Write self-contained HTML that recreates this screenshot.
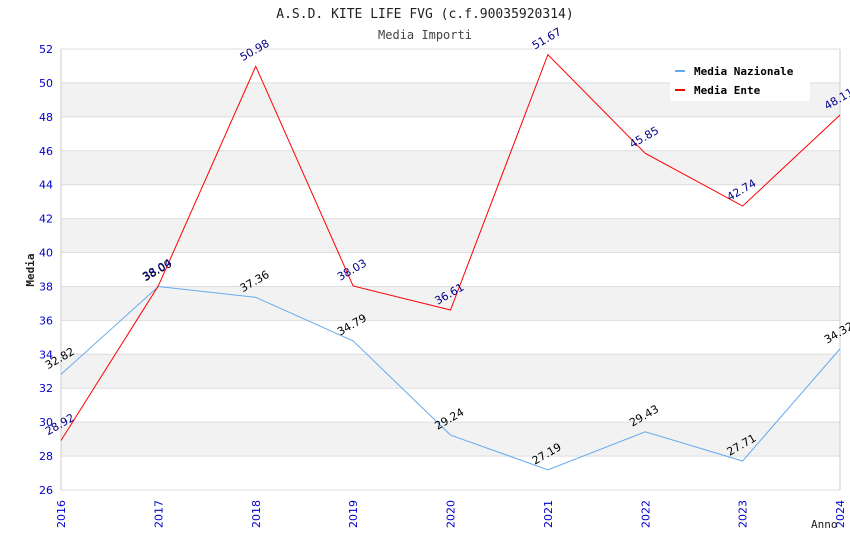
<!DOCTYPE html>
<html><head><meta charset="utf-8"><style>
body{margin:0;background:#fff}
svg{font-family:"DejaVu Sans Mono","Liberation Mono",monospace}
.sans{font-family:"DejaVu Sans","Liberation Sans",sans-serif}
</style></head><body>
<svg width="850" height="550" xmlns="http://www.w3.org/2000/svg">
<text x="425" y="18" text-anchor="middle" font-size="13" fill="#222">A.S.D. KITE LIFE FVG (c.f.90035920314)</text>
<text x="425" y="39" text-anchor="middle" font-size="12" fill="#444">Media Importi</text>
<g id="grid"></g>
<g id="series"></g>
<text transform="translate(34,270) rotate(-90)" text-anchor="middle" font-size="11" font-weight="bold" fill="#222">Media</text>
<text x="811" y="528" font-size="11" fill="#222">Anno</text>
<g>
<rect x="670" y="58" width="140" height="43" fill="#fff"/>
<rect x="675" y="70" width="10" height="2" fill="#66aaee"/>
<text x="694" y="75" font-size="11" font-weight="bold" fill="#000">Media Nazionale</text>
<rect x="675" y="89" width="10" height="2" fill="#ff0000"/>
<text x="694" y="94" font-size="11" font-weight="bold" fill="#000">Media Ente</text>
</g>
</svg>
<script>
const years=["2016","2017","2018","2019","2020","2021","2022","2023","2024"];
const nazionale=[32.82,38.0,37.36,34.79,29.24,27.19,29.43,27.71,34.32];
const ente=[28.92,38.04,50.98,38.03,36.61,51.67,45.85,42.74,48.11];
const yTicks=[26,28,30,32,34,36,38,40,42,44,46,48,50,52];
const NS="http://www.w3.org/2000/svg";
const x0=61,x1=840,yTop=49,yBot=490,yMin=26,yMax=52;
const xs=i=>x0+(x1-x0)*i/(years.length-1);
const ys=v=>yBot-(v-yMin)/(yMax-yMin)*(yBot-yTop);
function mk(t,a,p){const e=document.createElementNS(NS,t);for(const k in a)e.setAttribute(k,a[k]);p.appendChild(e);return e;}
const g=document.getElementById('grid'),s=document.getElementById('series');
for(let i=0;i<yTicks.length-1;i++){
 if(yTicks[i]%4===0){const b=mk('rect',{x:x0,y:ys(yTicks[i]+2),width:x1-x0,height:ys(yTicks[i])-ys(yTicks[i]+2),fill:'#f2f2f2'},g);
 
 }
}
yTicks.forEach(v=>{
 const l=mk('line',{x1:x0,x2:x1,y1:ys(v),y2:ys(v),stroke:'#ddd'},g);
 
 
 const t=mk('text',{x:x0-8,y:ys(v)+4,'text-anchor':'end','font-size':11,fill:'#0000cc',class:'sans'},g);
 t.textContent=v;
 
 
});
mk('line',{x1:x0,x2:x0,y1:yTop,y2:yBot,stroke:'#ccc'},g);
mk('line',{x1:x1,x2:x1,y1:yTop,y2:yBot,stroke:'#ccc'},g);
years.forEach((y,i)=>{
 const t=mk('text',{transform:`translate(${xs(i)+4},${yBot+38}) rotate(-90)`,'font-size':11,fill:'#0000cc',class:'sans'},g);
 t.textContent=y;
 
 
});
function series(data,color,labColor,name){
 const p=mk('polyline',{points:data.map((v,i)=>xs(i)+','+ys(v)).join(' '),fill:'none',stroke:color,'stroke-width':1},s);
 
 
 data.forEach((v,i)=>{
  const t=mk('text',{transform:`translate(${xs(i)-13},${ys(v)-5}) rotate(-30)`,'font-size':11,fill:labColor,class:'sans'},s);
  t.textContent=v.toFixed(2);
  
  
 });
}
series(nazionale,'#66aaee','#000','nazionale');
series(ente,'#ff0000','#000088','ente');
</script>
</body></html>
